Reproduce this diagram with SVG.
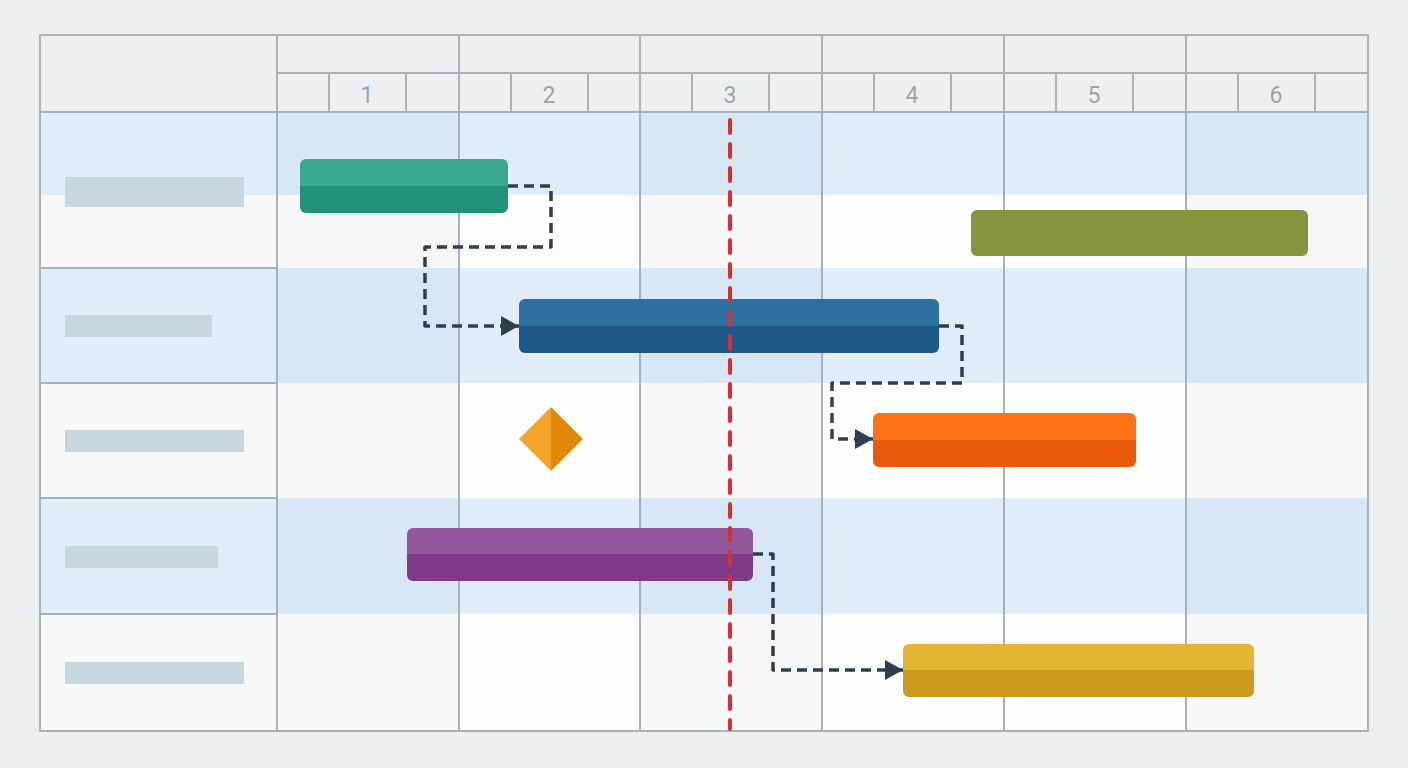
<svg xmlns="http://www.w3.org/2000/svg" width="1408" height="768" viewBox="0 0 1408 768">
<style>
.grid{stroke:#a5b2b9;stroke-width:2;fill:none}
.num{font-family:Roboto,"Liberation Sans",sans-serif;font-size:23px;fill:#98a5ac;text-anchor:middle;font-weight:400}
.lbl{fill:#c8d6df}
.conn{fill:none;stroke:#2c3e50;stroke-width:3.5;stroke-dasharray:10 6;stroke-linejoin:round}
.today{stroke:#d9302f;stroke-width:4;stroke-dasharray:13 11;stroke-linecap:round}
</style>
<defs>
<marker id="arr" viewBox="0 0 18 20" refX="18" refY="10" markerWidth="18" markerHeight="20" markerUnits="userSpaceOnUse" orient="auto">
<path d="M0,0 L18,10 L0,20 z" fill="#2c3e50"/>
</marker>
<linearGradient id="gGreen" x1="0" y1="0" x2="0" y2="1"><stop offset="0.5" stop-color="#3ba98f"/><stop offset="0.5" stop-color="#21917a"/></linearGradient>
<linearGradient id="gBlue" x1="0" y1="0" x2="0" y2="1"><stop offset="0.5" stop-color="#2e6fa1"/><stop offset="0.5" stop-color="#1d5886"/></linearGradient>
<linearGradient id="gOrange" x1="0" y1="0" x2="0" y2="1"><stop offset="0.5" stop-color="#fd7418"/><stop offset="0.5" stop-color="#e8590c"/></linearGradient>
<linearGradient id="gPurple" x1="0" y1="0" x2="0" y2="1"><stop offset="0.5" stop-color="#93579b"/><stop offset="0.5" stop-color="#7d3a88"/></linearGradient>
<linearGradient id="gYellow" x1="0" y1="0" x2="0" y2="1"><stop offset="0.5" stop-color="#e3b530"/><stop offset="0.5" stop-color="#cc9a1c"/></linearGradient>
</defs>
<rect width="1408" height="768" fill="#ecf0f2"/>
<g id="background">
<rect x="40" y="35" width="1328" height="77" fill="#edf0f2"/>
<rect x="40" y="112" width="1328" height="83" fill="#e1eefa"/>
<rect x="40" y="195" width="1328" height="73" fill="#fcfdfd"/>
<rect x="40" y="268" width="1328" height="115" fill="#e1eefa"/>
<rect x="40" y="383" width="1328" height="115" fill="#fcfdfd"/>
<rect x="40" y="498" width="1328" height="116" fill="#e1eefa"/>
<rect x="40" y="614" width="1328" height="117" fill="#fcfdfd"/>
<rect x="40" y="195" width="237" height="73" fill="#f6f8f9"/>
<rect x="40" y="383" width="237" height="115" fill="#f6f8f9"/>
<rect x="40" y="614" width="237" height="117" fill="#f6f8f9"/>
<g fill="#d7e7f6">
<rect x="277" y="112" width="182" height="83"/><rect x="640" y="112" width="182" height="83"/><rect x="1186" y="112" width="182" height="83"/>
<rect x="277" y="268" width="182" height="115"/><rect x="640" y="268" width="182" height="115"/><rect x="1186" y="268" width="182" height="115"/>
<rect x="277" y="498" width="182" height="116"/><rect x="640" y="498" width="182" height="116"/><rect x="1186" y="498" width="182" height="116"/>
</g>
<g fill="#f5f7f8">
<rect x="277" y="195" width="182" height="73"/><rect x="640" y="195" width="182" height="73"/><rect x="1186" y="195" width="182" height="73"/>
<rect x="277" y="383" width="182" height="115"/><rect x="640" y="383" width="182" height="115"/><rect x="1186" y="383" width="182" height="115"/>
<rect x="277" y="614" width="182" height="117"/><rect x="640" y="614" width="182" height="117"/><rect x="1186" y="614" width="182" height="117"/>
</g>
</g>
<g id="grid" class="grid">
<rect x="40" y="35" width="1328" height="696"/>
<line x1="40" y1="112" x2="1368" y2="112"/>
<line x1="277" y1="73" x2="1368" y2="73"/>
<path d="M277,35V731 M459,35V731 M640,35V731 M822,35V731 M1004,35V731 M1186,35V731"/>
<path d="M329,73V112 M406,73V112 M511,73V112 M588,73V112 M692,73V112 M769,73V112 M874,73V112 M951,73V112 M1056,73V112 M1133,73V112 M1238,73V112 M1315,73V112"/>
<path d="M40,268H277 M40,383H277 M40,498H277 M40,614H277"/>
</g>
<g id="header-numbers">
<text class="num" x="367" y="103">1</text>
<text class="num" x="549" y="103">2</text>
<text class="num" x="730" y="103">3</text>
<text class="num" x="912" y="103">4</text>
<text class="num" x="1094" y="103">5</text>
<text class="num" x="1276" y="103">6</text>
</g>
<g id="labels">
<rect class="lbl" x="65" y="177" width="179" height="30"/>
<rect class="lbl" x="65" y="315" width="147" height="22"/>
<rect class="lbl" x="65" y="430" width="179" height="22"/>
<rect class="lbl" x="65" y="546" width="153" height="22"/>
<rect class="lbl" x="65" y="662" width="179" height="22"/>
</g>
<g id="connectors">
<path class="conn" d="M508,186 H551 V247 H425 V326 H519" marker-end="url(#arr)"/>
<path class="conn" d="M939,326 H962 V383 H832 V439 H873" marker-end="url(#arr)"/>
<path class="conn" d="M753,554 H773 V670 H903" marker-end="url(#arr)"/>
</g>
<g id="task-green"><rect x="300" y="159" width="208" height="54" rx="6" fill="url(#gGreen)"/></g>
<g id="task-olive"><rect x="971" y="210" width="337" height="46" rx="6" fill="#83953d"/></g>
<g id="task-blue"><rect x="519" y="299" width="420" height="54" rx="6" fill="url(#gBlue)"/></g>
<g id="milestone"><path d="M551,407 L583,439 L551,471 Z" fill="#e0890b"/><path d="M551,407 L519,439 L551,471 Z" fill="#f2a42b"/></g>
<g id="task-orange"><rect x="873" y="413" width="263" height="54" rx="6" fill="url(#gOrange)"/></g>
<g id="task-purple"><rect x="407" y="528" width="346" height="53" rx="6" fill="url(#gPurple)"/></g>
<g id="task-yellow"><rect x="903" y="644" width="351" height="53" rx="6" fill="url(#gYellow)"/></g>
<g id="today-line"><line class="today" x1="730" y1="120" x2="730" y2="729"/></g>
</svg>
